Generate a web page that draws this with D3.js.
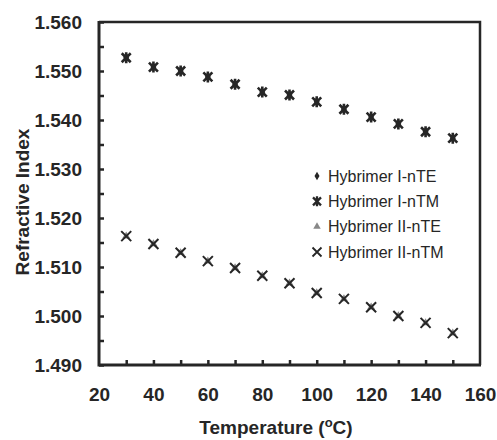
<!DOCTYPE html>
<html>
<head>
<meta charset="utf-8">
<script src="https://cdn.jsdelivr.net/npm/d3@7"></script>
<style>
body{margin:0;background:#fff;}
svg{display:block;font-family:"Liberation Sans",Arial,sans-serif;}
</style>
</head>
<body>
<svg id="chart" width="497" height="440"></svg>
<script>
// data
const temps = [30, 40, 50, 60, 70, 80, 90, 100, 110, 120, 130, 140, 150];
const hybI_nTE = [1.5527, 1.5508, 1.5500, 1.5488, 1.5473, 1.5457, 1.5451, 1.5437, 1.5422, 1.5406, 1.5392, 1.5376, 1.5363];
const hybI_nTM = [1.5527, 1.5508, 1.5500, 1.5488, 1.5473, 1.5457, 1.5451, 1.5437, 1.5422, 1.5406, 1.5392, 1.5376, 1.5363];
const hybII_nTE = [1.5163, 1.5147, 1.5129, 1.5112, 1.5098, 1.5082, 1.5067, 1.5047, 1.5035, 1.5018, 1.5000, 1.4986, 1.4965];
const hybII_nTM = [1.5163, 1.5147, 1.5129, 1.5112, 1.5098, 1.5082, 1.5067, 1.5047, 1.5035, 1.5018, 1.5000, 1.4986, 1.4965];
const seriesNames = ["Hybrimer I-nTE", "Hybrimer I-nTM", "Hybrimer II-nTE", "Hybrimer II-nTM"];
const yTicks = [1.490, 1.500, 1.510, 1.520, 1.530, 1.540, 1.550, 1.560];
const xTicks = [20, 40, 60, 80, 100, 120, 140, 160];

const svg = d3.select("#chart");
const pL = 99, pR = 480, pT = 22, pB = 365;//plot box in px
const ink = "#262626";

const x = d3.scaleLinear().domain([20, 160]).range([pL, pR]);
const y = d3.scaleLinear().domain([1.49, 1.56]).range([pB, pT]);

//minor + major ticks on y (pointing inward)
const yMinor = d3.range(1.49, 1.5601, 0.005);
svg.append("g").attr("transform", `translate(${pL},0)`)
    .call(d3.axisLeft(y).tickValues(yMinor).tickSize(-5).tickFormat(""))
    .call(g => g.select(".domain").remove())
    .call(g => g.selectAll("line").attr("stroke", ink).attr("stroke-width", 2.5));
svg.append("g").attr("transform", `translate(${pL},0)`)
    .call(d3.axisLeft(y).tickValues(yTicks).tickSize(0).tickPadding(17).tickFormat(d3.format(".3f")))
    .call(g => g.select(".domain").remove())
    .call(g => g.selectAll("text").attr("fill", ink).style("font-size", "19px").style("font-weight", "bold"));

//x ticks every 10 pointing up
svg.append("g").attr("transform", `translate(0,${pB})`)
    .call(d3.axisBottom(x).tickValues(d3.range(30, 151, 10)).tickSize(-5).tickFormat(""))
    .call(g => g.select(".domain").remove())
    .call(g => g.selectAll("line").attr("stroke", ink).attr("stroke-width", 2.5));
svg.append("g").attr("transform", `translate(0,${pB})`)
    .call(d3.axisBottom(x).tickValues(xTicks).tickSize(0).tickPadding(23))
    .call(g => g.select(".domain").remove())
    .call(g => g.selectAll("text").attr("fill", ink).style("font-size", "19px").style("font-weight", "bold"));

//frame
svg.append("path").attr("d", `M${pL},${pT}H${pR}V${pB}`)
    .attr("fill", "none").attr("stroke", ink).attr("stroke-width", 2.5);
svg.append("path").attr("d", `M${pL},${pT - 1}V${pB}H${pR + 1}`)
    .attr("fill", "none").attr("stroke", ink).attr("stroke-width", 3);

//markers
const star = s => `M${-s},${-s}L${s},${s}M${-s},${s}L${s},${-s}M0,${-s - 1}L0,${s + 1}`;
const cross = s => `M${-s},${-s}L${s},${s}M${-s},${s}L${s},${-s}`;
const diamond = d3.symbol().type(d3.symbolDiamond).size(30)();
const tri = d3.symbol().type(d3.symbolTriangle).size(28)();

function plot(vals, draw){
    svg.append("g").selectAll("path").data(temps).join("path")
        .attr("transform", (d, i) => `translate(${x(d)},${y(vals[i])})`)
        .call(draw);
}
plot(hybI_nTE, p => p.attr("d", diamond).attr("fill", ink));
plot(hybI_nTM, p => p.attr("d", star(4.5)).attr("fill", "none").attr("stroke", ink).attr("stroke-width", 2.6));
plot(hybII_nTE, p => p.attr("d", tri).attr("fill", "#888"));
plot(hybII_nTM, p => p.attr("d", cross(5)).attr("fill", "none").attr("stroke", ink).attr("stroke-width", 2));

//legend
const legY = d3.scalePoint().domain(seriesNames).range([176, 252]);
const lg = svg.append("g");
const drawers = [
    p => p.attr("d", d3.symbol().type(d3.symbolDiamond).size(22)()).attr("fill", ink),
    p => p.attr("d", star(4)).attr("fill", "none").attr("stroke", ink).attr("stroke-width", 2.3),
    p => p.attr("d", d3.symbol().type(d3.symbolTriangle).size(24)()).attr("fill", "#888"),
    p => p.attr("d", cross(4.5)).attr("fill", "none").attr("stroke", ink).attr("stroke-width", 1.8)
];
seriesNames.forEach((name, i) => {
    lg.append("path").attr("transform", `translate(317,${legY(name)})`).call(drawers[i]);
    lg.append("text").attr("x", 328).attr("y", legY(name)).attr("dy", "0.36em")
        .attr("fill", ink).style("font-size", "16px").text(name);
});

//axis titles
svg.append("text").attr("x", 276).attr("y", 434).attr("text-anchor", "middle")
    .attr("fill", ink).style("font-size", "19px").style("font-weight", "bold")
    .text("Temperature (")
    .call(t => t.append("tspan").attr("dy", -7).style("font-size", "13px").text("o"))
    .call(t => t.append("tspan").attr("dy", 7).text("C)"));
svg.append("text").attr("transform", "translate(29,202) rotate(-90)").attr("text-anchor", "middle")
    .attr("fill", ink).style("font-size", "19px").style("font-weight", "bold")
    .text("Refractive Index");
</script>
</body>
</html>
